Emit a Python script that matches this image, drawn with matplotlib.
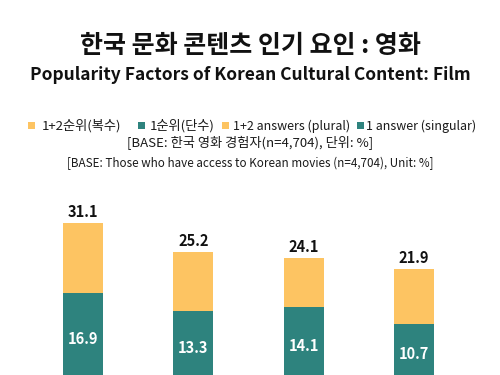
import matplotlib
matplotlib.use('Agg')
import matplotlib.pyplot as plt
from matplotlib.patches import Rectangle

# ---- data ----
title_ko = '한국 문화 콘텐츠 인기 요인 : 영화'
title_en = 'Popularity Factors of Korean Cultural Content: Film'
legend_labels = ['1+2순위(복수)', '1순위(단수)', '1+2 answers (plural)', '1 answer (singular)']
base_ko = '[BASE: 한국 영화 경험자(n=4,704), 단위: %]'
base_en = '[BASE: Those who have access to Korean movies (n=4,704), Unit: %]'
plural = [31.1, 25.2, 24.1, 21.9]
singular = [16.9, 13.3, 14.1, 10.7]

YELLOW = '#FDC462'
TEAL = '#2E837E'
FAM = ['Noto Sans CJK KR', 'DejaVu Sans']
plt.rcParams['font.family'] = FAM

W, H = 500, 375
fig = plt.figure(figsize=(5, 3.75), dpi=100)
fig.patch.set_facecolor('white')

def fx(px):
    return px / W

def fy(py):
    return 1 - py / H

# titles
fig.text(0.5, fy(46), title_ko, ha='center', va='center', fontsize=18, fontweight='bold', color='#111111')
fig.text(0.5, fy(75), title_en, ha='center', va='center', fontsize=12.5, fontweight='bold', color='#111111')

# legend (manual)
leg_colors = [YELLOW, TEAL, YELLOW, TEAL]
leg_sizes = [9.5, 9.5, 9, 9]
sq_x = [28, 138, 221.5, 356.5]
tx_x = [41.5, 150, 233, 366.5]
for lab, c, sx, tx, fs in zip(legend_labels, leg_colors, sq_x, tx_x, leg_sizes):
    fig.patches.append(Rectangle((fx(sx), fy(129.5)), 7 / W, 7 / H, transform=fig.transFigure,
                                 facecolor=c, edgecolor='none'))
    fig.text(fx(tx), fy(126), lab, ha='left', va='center', fontsize=fs, color='#1a1a1a')

fig.text(0.5, fy(143), base_ko, ha='center', va='center', fontsize=9.5, color='#1a1a1a')
fig.text(0.5, fy(163), base_en, ha='center', va='center', fontsize=8.4, color='#1a1a1a')

# bars
ax = fig.add_axes([0, 0, 1, 0.6])
x = list(range(len(plural)))
ax.bar(x, plural, width=0.363, color=YELLOW, zorder=1)
ax.bar(x, singular, width=0.363, color=TEAL, zorder=2)
for i, (p, s) in enumerate(zip(plural, singular)):
    ax.text(i, p + 0.6, f'{p}', ha='center', va='bottom', fontsize=10.5, fontweight='bold', color='#111111')
    ax.text(i, s / 2 - 0.8, f'{s}', ha='center', va='center', fontsize=10.5, fontweight='bold', color='white')
ax.set_xlim(-0.7525, 3.78)
ax.set_ylim(0.32, 45.96)
ax.axis('off')

fig.savefig('out.png', dpi=100, facecolor='white')
